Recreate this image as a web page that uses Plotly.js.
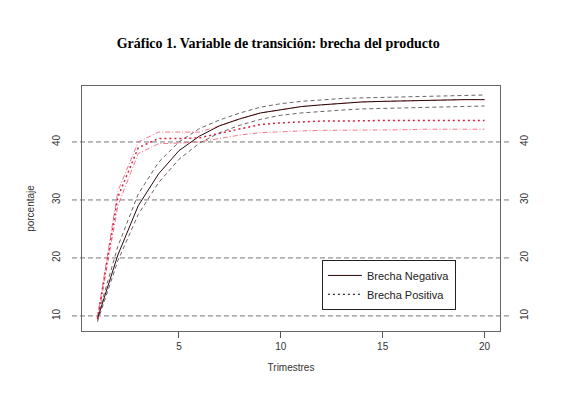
<!DOCTYPE html>
<html>
<head>
<meta charset="utf-8">
<script src="https://cdn.plot.ly/plotly-3.0.1.min.js"></script>
<style>html,body{margin:0;padding:0;background:#fff;}#chart{width:582px;height:400px;}</style>
</head>
<body>
<div id="chart"></div>
<script>
var trimestres = [1,2,3,4,5,6,7,8,9,10,11,12,13,14,15,16,17,18,19,20];
var negCentral = [9.5,20.5,29,34.5,38.5,41,42.8,44,45,45.6,46.1,46.4,46.7,46.9,47,47.1,47.2,47.2,47.3,47.3];
var negUpper   = [9.8,22,31,36.5,40,42.3,43.8,45,46,46.6,47,47.3,47.5,47.6,47.7,47.8,47.9,48,48,48.1];
var negLower   = [9,19.5,27.5,33,37,39.8,41.6,42.9,43.9,44.6,45,45.3,45.5,45.7,45.8,45.9,46,46.1,46.1,46.2];
var posCentral = [9.5,30.5,39,40.6,40.6,40.7,41.5,42.3,43,43.3,43.5,43.6,43.6,43.7,43.7,43.7,43.7,43.7,43.7,43.7];
var posUpper   = [9.8,31.5,40,41.7,41.7,41.7,42.8,44,45,45.6,46.1,46.4,46.7,46.9,47,47.1,47.2,47.2,47.3,47.3];
var posLower   = [9.2,29,38,39.7,39.8,40,40.6,41.2,41.6,41.8,41.9,42,42,42.1,42.1,42.1,42.2,42.2,42.2,42.2];
var yTicks = [10,20,30,40];
var xTicks = [5,10,15,20];
var legendNames = ['Brecha Negativa','Brecha Positiva'];

var traces = [
  {x:trimestres, y:negUpper, mode:'lines', line:{color:'#555', width:0.9, dash:'4px,3px'}, showlegend:false, hoverinfo:'skip'},
  {x:trimestres, y:negLower, mode:'lines', line:{color:'#555', width:0.9, dash:'4px,3px'}, showlegend:false, hoverinfo:'skip'},
  {x:trimestres, y:posUpper, mode:'lines', line:{color:'#ee6a80', width:0.9, dash:'5px,2px,1px,2px'}, showlegend:false, hoverinfo:'skip'},
  {x:trimestres, y:posLower, mode:'lines', line:{color:'#ee6a80', width:0.9, dash:'5px,2px,1px,2px'}, showlegend:false, hoverinfo:'skip'},
  {x:trimestres, y:negCentral, mode:'lines', name:legendNames[0], line:{color:'#2a0808', width:1}, showlegend:true},
  {x:trimestres, y:posCentral, mode:'lines', line:{color:'#d42040', width:1.5, dash:'2px,3px'}, showlegend:false, hoverinfo:'skip'},
  {x:[null], y:[null], mode:'lines', name:legendNames[1], line:{color:'#333', width:1.3, dash:'2px,3px'}, showlegend:true},
  {x:trimestres, y:negCentral, yaxis:'y2', mode:'lines', line:{width:0}, opacity:0, showlegend:false, hoverinfo:'skip'}
];

var shapes = yTicks.map(function(v){
  return {type:'line', xref:'paper', yref:'y', x0:-0.024, x1:1.024, y0:v, y1:v,
          line:{color:'#666', width:0.9, dash:'5px,3px'}, layer:'below'};
});

var axisFont = {family:'Liberation Sans, Arial, sans-serif', size:10, color:'#333'};
var layout = {
  width:582, height:400,
  margin:{l:82, r:82, t:86, b:69},
  paper_bgcolor:'#fff', plot_bgcolor:'#fff',
  title:{text:'<b>Gráfico 1. Variable de transición: brecha del producto</b>',
         font:{family:'Liberation Serif, Times New Roman, serif', size:14, color:'#000'},
         x:0.478, xanchor:'center', y:0.893, yanchor:'middle'},
  xaxis:{range:[0.24,20.76], tickvals:xTicks, ticktext:xTicks.map(String), ticks:'outside', ticklen:6,
         tickcolor:'#555', showgrid:false, zeroline:false, showline:true, linecolor:'#666', mirror:true,
         tickfont:axisFont, title:{text:'Trimestres', font:axisFont, standoff:12}},
  yaxis:{range:[7.4,49.65], tickvals:yTicks, ticktext:yTicks.map(String), ticks:'', tickangle:-90,
         showgrid:false, zeroline:false, showline:true, linecolor:'#666', mirror:true,
         tickfont:axisFont, ticklabelstandoff:17, title:{text:'porcentaje', font:axisFont, standoff:14}},
  yaxis2:{range:[7.4,49.65], overlaying:'y', side:'right', tickvals:yTicks, ticktext:yTicks.map(String),
          ticks:'', tickangle:-90, showgrid:false, zeroline:false, showline:false, tickfont:axisFont, ticklabelstandoff:17},
  shapes:shapes,
  showlegend:true,
  legend:{x:0.574, y:0.29, xanchor:'left', yanchor:'top', bordercolor:'#222', borderwidth:1,
          bgcolor:'#fff', font:{family:'Liberation Sans, Arial, sans-serif', size:11, color:'#222'},
          tracegroupgap:0, itemwidth:34}
};
Plotly.newPlot('chart', traces, layout, {displayModeBar:false, staticPlot:true});
</script>
</body>
</html>
